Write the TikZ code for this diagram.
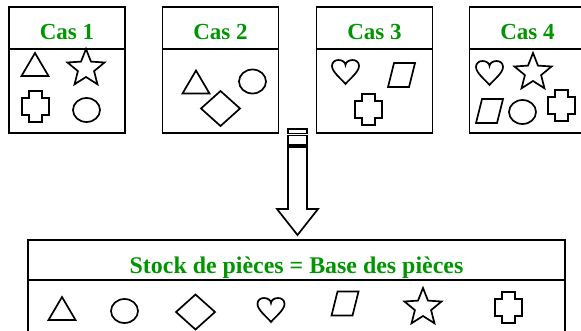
\documentclass[tikz,border=0pt]{standalone}
\usepackage{fontspec}
\setmainfont{Liberation Serif}
\usepackage{tikz}
\usetikzlibrary{positioning}

\definecolor{vert}{RGB}{0,150,0}

\tikzset{
  trait/.style={line width=1.7pt, line join=miter},
  tete/.style={draw, line width=1.7pt, outer sep=0pt, inner sep=0pt,
    minimum width=116pt, text height=32pt, text depth=10pt,
    font=\fontsize{23}{23}\selectfont\bfseries, text=vert},
  corps/.style={draw, line width=1.7pt, outer sep=0pt, inner sep=0pt,
    minimum width=116pt, minimum height=84pt},
  pics/tri/.style={code={\draw[trait] (-13.5,11.5) -- (13.5,11.5) -- (0,-11.5) -- cycle;}},
  pics/oval/.style={code={\draw[trait] (0,0) ellipse [x radius=13.5pt, y radius=12pt];}},
  pics/losange/.style={code={\draw[trait] (0,-17.5) -- (19.5,0) -- (0,17.5) -- (-19.5,0) -- cycle;}},
  pics/coeur/.style={code={\draw[trait] (0,12) .. controls (-4,7) and (-13.5,0) .. (-13.5,-6)
      .. controls (-13.5,-10) and (-10.5,-12) .. (-7,-12) .. controls (-3,-12) and (0,-9.5) .. (0,-7)
      .. controls (0,-9.5) and (3,-12) .. (7,-12) .. controls (10.5,-12) and (13.5,-10) .. (13.5,-6)
      .. controls (13.5,0) and (4,7) .. (0,12) -- cycle;}},
  pics/para/.style={code={\draw[trait] (-7.5,-12) -- (13.5,-12) -- (7.5,12) -- (-13.5,12) -- cycle;}},
  pics/etoile/.style={code={\draw[trait] (90:19.5pt)
      \foreach \a in {0,72,...,288} {-- (126+\a:8.5pt) -- (162+\a:19.5pt)} -- cycle;}},
  pics/croix/.style={code={\draw[trait] (-6.5,-15.5) -- (6.5,-15.5) -- (6.5,-8.5) -- (13.5,-8.5)
      -- (13.5,8.5) -- (6.5,8.5) -- (6.5,15.5) -- (-6.5,15.5) -- (-6.5,8.5) -- (-13.5,8.5)
      -- (-13.5,-8.5) -- (-6.5,-8.5) -- cycle;}}
}

\begin{document}
\begin{tikzpicture}[x=1pt, y=-1pt]
\useasboundingbox (0,0) rectangle (581,330);

% les quatre cas
\node[tete] (cas1) at (67,28) {Cas 1};
\node[corps] (cas1b) [below=0pt of cas1] {};
\node[tete] (cas2) at (220.5,28) {Cas 2};
\node[corps] (cas2b) [below=0pt of cas2] {};
\node[tete] (cas3) at (374.5,28) {Cas 3};
\node[corps] (cas3b) [below=0pt of cas3] {};
\node[tete] (cas4) at (527.5,28) {Cas 4};
\node[corps] (cas4b) [below=0pt of cas4] {};

\pic at (35,64.5) {tri};
\pic at (86,68.5) {etoile};
\pic at (35.5,106.5) {croix};
\pic at (86.5,110) {oval};

\pic at (196,82) {tri};
\pic at (252.5,81.5) {oval};
\pic at (220.5,108.5) {losange};

\pic at (345.5,72) {coeur};
\pic at (401.5,75) {para};
\pic at (368.5,109.5) {croix};

\pic at (489.5,73) {coeur};
\pic at (533,72.5) {etoile};
\pic at (489.5,111) {para};
\pic at (522.5,112) {oval};
\pic at (561.5,105.5) {croix};

% la fleche
\draw[trait] (288,129) rectangle (307,133.5);
\draw[trait] (288,135.5) rectangle (307,145);
\draw[trait] (288,147) -- (307,147) -- (307,209) -- (318,209) -- (297.5,235)
  -- (277,209) -- (288,209) -- cycle;

% le stock
\node[tete, minimum width=537pt, text height=33pt, text depth=7pt,
  font=\fontsize{23.9}{23.9}\selectfont\bfseries] (stock) at (296.5,260)
  {Stock de pièces = Base des pièces};
\node[corps, minimum width=537pt, minimum height=60pt] (stockb) [below=0pt of stock] {};

\pic at (62,308.5) {tri};
\pic at (124.5,311) {oval};
\pic at (195.5,312) {losange};
\pic at (271,310) {coeur};
\pic at (345,303.5) {para};
\pic at (423,307.5) {etoile};
\pic at (508.5,307.5) {croix};
\end{tikzpicture}
\end{document}
